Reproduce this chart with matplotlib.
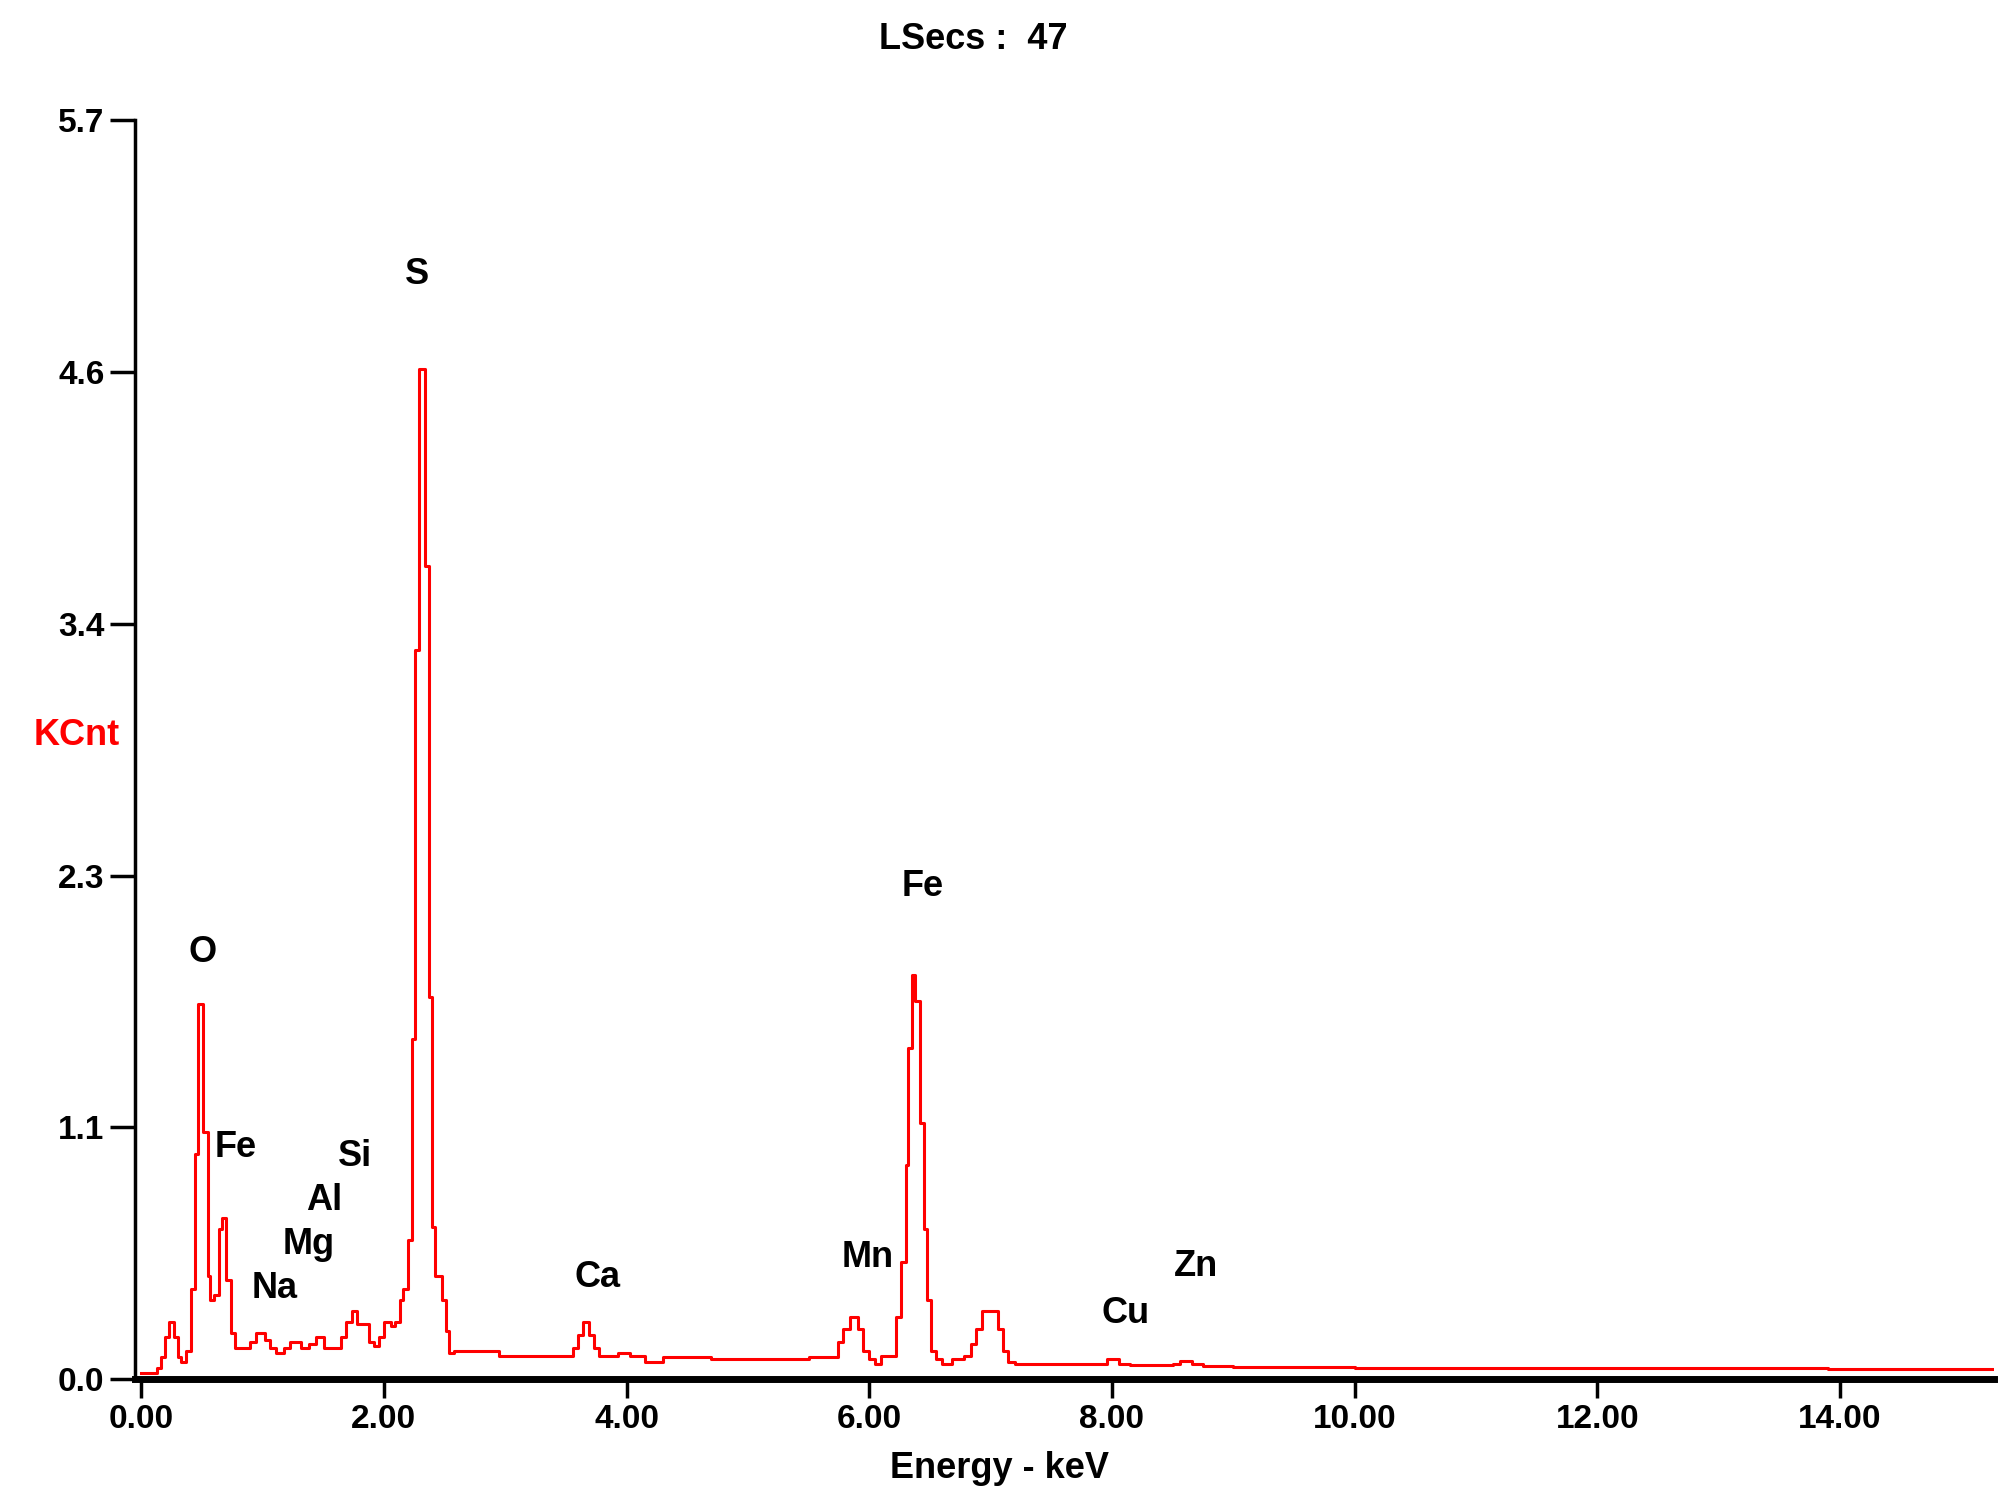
import matplotlib
matplotlib.use("Agg")
import matplotlib.pyplot as plt

plt.rcParams['font.family'] = ['Liberation Sans', 'DejaVu Sans']

energy = [0.00,0.13,0.16,0.20,0.23,0.27,0.30,0.33,0.37,0.41,0.44,0.47,0.51,0.55,0.57,0.60,0.64,0.67,0.70,0.74,0.77,0.80,0.90,0.95,1.02,1.06,1.11,1.18,1.23,1.32,1.38,1.44,1.51,1.60,1.65,1.69,1.74,1.78,1.88,1.92,1.96,2.00,2.06,2.09,2.13,2.16,2.20,2.23,2.26,2.29,2.34,2.37,2.40,2.42,2.48,2.51,2.54,2.58,2.70,2.95,3.56,3.60,3.64,3.69,3.73,3.77,3.93,4.03,4.15,4.30,4.70,5.50,5.74,5.78,5.84,5.91,5.95,6.00,6.05,6.10,6.22,6.26,6.30,6.32,6.35,6.38,6.42,6.45,6.48,6.51,6.55,6.60,6.68,6.78,6.84,6.88,6.93,6.98,7.06,7.10,7.14,7.20,7.90,7.96,8.06,8.15,8.50,8.56,8.66,8.75,9.00,10.00,11.30,13.90,15.30]
counts = [0.03,0.05,0.10,0.19,0.26,0.19,0.10,0.08,0.13,0.41,1.02,1.70,1.12,0.47,0.36,0.38,0.68,0.73,0.45,0.21,0.14,0.14,0.17,0.21,0.18,0.14,0.12,0.14,0.17,0.14,0.16,0.19,0.14,0.14,0.19,0.26,0.31,0.25,0.17,0.15,0.19,0.26,0.24,0.26,0.36,0.41,0.63,1.54,3.30,4.57,3.68,1.73,0.69,0.47,0.36,0.22,0.12,0.13,0.13,0.105,0.14,0.20,0.26,0.20,0.14,0.105,0.12,0.105,0.08,0.10,0.09,0.10,0.17,0.23,0.28,0.23,0.13,0.09,0.07,0.105,0.28,0.53,0.97,1.50,1.83,1.71,1.16,0.68,0.36,0.13,0.09,0.07,0.09,0.105,0.16,0.23,0.31,0.31,0.23,0.13,0.08,0.07,0.07,0.09,0.07,0.065,0.07,0.085,0.07,0.06,0.055,0.05,0.05,0.045,0.045]

labels = ['O','Fe','Si','Al','Mg','Na','S','Ca','Mn','Fe','Cu','Zn']
label_x = [0.51,0.78,1.76,1.51,1.38,1.10,2.27,3.76,5.99,6.44,8.11,8.69]
label_y = [1.93,1.05,1.01,0.81,0.61,0.41,5.00,0.46,0.55,2.23,0.30,0.51]

yticks = [0, 1.14, 2.28, 3.42, 4.56, 5.7]
yticklabels = ['0.0','1.1','2.3','3.4','4.6','5.7']
xticks = [0,2,4,6,8,10,12,14]
xticklabels = ['0.00','2.00','4.00','6.00','8.00','10.00','12.00','14.00']

fig = plt.figure(figsize=(20.07,15.08), dpi=100)
ax = fig.add_axes([0.0673,0.0853,0.9263,0.8353])
ax.step(energy, counts, where='post', color='#ff0000', lw=2.2)
ax.set_xlim(-0.05,15.27)
ax.set_ylim(0,5.7)
ax.set_yticks(yticks)
ax.set_yticklabels(yticklabels)
ax.set_xticks(xticks)
ax.set_xticklabels(xticklabels)
for s in ['top','right']:
    ax.spines[s].set_visible(False)
ax.spines['left'].set_linewidth(2.5)
ax.spines['bottom'].set_linewidth(5)
ax.tick_params(axis='y', length=18, width=2.5, labelsize=24, pad=4)
ax.tick_params(axis='x', length=14, width=2.5, labelsize=24, pad=4)
for t in ax.get_xticklabels()+ax.get_yticklabels():
    t.set_fontweight('bold')
for lab, x, y in zip(labels, label_x, label_y):
    ax.text(x, y, lab, ha='center', va='center', fontsize=26, fontweight='bold')
fig.text(0.485,0.974,'LSecs :  47', ha='center', va='center', fontsize=26, fontweight='bold')
fig.text(0.498,0.026,'Energy - keV', ha='center', va='center', fontsize=26, fontweight='bold')
fig.text(0.038,0.512,'KCnt', ha='center', va='center', fontsize=26, fontweight='bold', color='#ff0000')
fig.savefig('out.png', dpi=100)
